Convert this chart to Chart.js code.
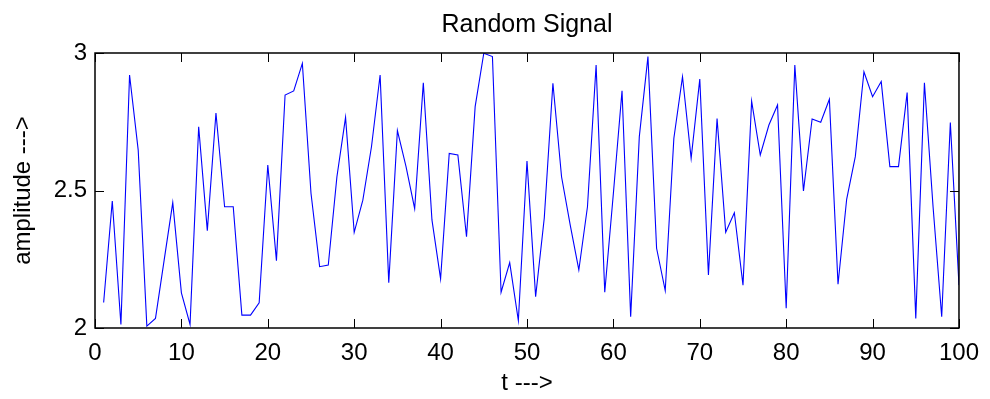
<!DOCTYPE html>
<html>
<head>
<meta charset="utf-8">
<script src="https://cdn.jsdelivr.net/npm/chart.js@4/dist/chart.umd.min.js"></script>
<style>
  html, body { margin: 0; padding: 0; background: #fff; }
  canvas { display: block; }
</style>
</head>
<body>
<canvas id="signalChart" width="990" height="399"></canvas>
<script>
const timeSteps = [
  1, 2, 3, 4, 5, 6, 7, 8, 9, 10, 11, 12, 13, 14, 15, 16, 17, 18, 19, 20,
  21, 22, 23, 24, 25, 26, 27, 28, 29, 30, 31, 32, 33, 34, 35, 36, 37, 38, 39, 40,
  41, 42, 43, 44, 45, 46, 47, 48, 49, 50, 51, 52, 53, 54, 55, 56, 57, 58, 59, 60,
  61, 62, 63, 64, 65, 66, 67, 68, 69, 70, 71, 72, 73, 74, 75, 76, 77, 78, 79, 80,
  81, 82, 83, 84, 85, 86, 87, 88, 89, 90, 91, 92, 93, 94, 95, 96, 97, 98, 99, 100
];
const amplitude = [
  2.093, 2.462, 2.013, 2.920, 2.647, 2.007, 2.035, 2.246, 2.456, 2.128,
  2.013, 2.732, 2.354, 2.782, 2.441, 2.441, 2.047, 2.047, 2.092, 2.593,
  2.245, 2.847, 2.862, 2.962, 2.490, 2.223, 2.229, 2.550, 2.766, 2.348,
  2.465, 2.659, 2.920, 2.165, 2.718, 2.587, 2.434, 2.892, 2.393, 2.179,
  2.635, 2.629, 2.332, 2.805, 2.999, 2.987, 2.130, 2.238, 2.027, 2.607,
  2.114, 2.400, 2.890, 2.550, 2.375, 2.211, 2.441, 2.956, 2.130, 2.490,
  2.863, 2.041, 2.696, 2.987, 2.290, 2.136, 2.690, 2.914, 2.617, 2.905,
  2.193, 2.762, 2.348, 2.419, 2.156, 2.825, 2.629, 2.738, 2.811, 2.072,
  2.956, 2.498, 2.760, 2.748, 2.832, 2.159, 2.468, 2.623, 2.932, 2.841,
  2.896, 2.587, 2.587, 2.856, 2.035, 2.892, 2.441, 2.041, 2.747, 2.156
];
const xTickValues = [0, 10, 20, 30, 40, 50, 60, 70, 80, 90, 100];
const yTickValues = [2, 2.5, 3];

Chart.defaults.font.family = "'Liberation Sans', Arial, sans-serif";
Chart.defaults.color = "#000";

// box round the plot with short inward ticks on all four sides
const axesBox = {
  id: "axesBox",
  afterDatasetsDraw(chart) {
    const { ctx, chartArea: a, scales } = chart;
    ctx.save();
    ctx.strokeStyle = "#000";
    ctx.lineWidth = 1;
    xTickValues.forEach((v) => {
      const x = Math.round(scales.x.getPixelForValue(v)) + 0.5;
      ctx.beginPath();
      ctx.moveTo(x, a.bottom);
      ctx.lineTo(x, a.bottom - 9);
      ctx.moveTo(x, a.top);
      ctx.lineTo(x, a.top + 9);
      ctx.stroke();
    });
    yTickValues.forEach((v) => {
      const y = Math.round(scales.y.getPixelForValue(v)) + 0.5;
      ctx.beginPath();
      ctx.moveTo(a.left, y);
      ctx.lineTo(a.left + 9, y);
      ctx.moveTo(a.right, y);
      ctx.lineTo(a.right - 9, y);
      ctx.stroke();
    });
    ctx.lineWidth = 1.5;
    ctx.strokeRect(a.left, a.top, a.right - a.left, a.bottom - a.top);
    ctx.restore();
  },
};

new Chart(document.getElementById("signalChart"), {
  type: "line",
  data: {
    datasets: [
      {
        data: timeSteps.map((t, i) => ({ x: t, y: amplitude[i] })),
        borderColor: "#0000ff",
        borderWidth: 1.1,
        pointRadius: 0,
        tension: 0,
        fill: false,
      },
    ],
  },
  options: {
    responsive: false,
    animation: false,
    devicePixelRatio: 1,
    layout: { padding: { right: 27, left: 0, top: 0, bottom: 0 } },
    plugins: {
      legend: { display: false },
      tooltip: { enabled: false },
      title: {
        display: true,
        fullSize: false,
        text: "Random Signal",
        color: "#000",
        font: { size: 25, weight: "normal" },
        padding: { top: 10, bottom: 13 },
      },
    },
    scales: {
      x: {
        type: "linear",
        min: 0,
        max: 100,
        afterBuildTicks: (scale) => {
          scale.ticks = xTickValues.map((v) => ({ value: v }));
        },
        afterFit: (scale) => {
          scale.height = 71;
        },
        grid: { display: false, drawTicks: false },
        border: { display: false },
        ticks: { padding: 11, font: { size: 24 }, maxRotation: 0 },
        title: {
          display: true,
          text: "t --->",
          font: { size: 24 },
          padding: { top: 0, bottom: 1 },
        },
      },
      y: {
        min: 2,
        max: 3,
        afterBuildTicks: (scale) => {
          scale.ticks = yTickValues.map((v) => ({ value: v }));
        },
        afterFit: (scale) => {
          scale.width = 95;
        },
        grid: { display: false, drawTicks: false },
        border: { display: false },
        ticks: {
          padding: 8,
          font: { size: 24 },
          callback: (v) => String(v),
        },
        title: {
          display: true,
          text: "amplitude --->",
          font: { size: 24 },
          padding: { top: 9, bottom: 0 },
        },
      },
    },
  },
  plugins: [axesBox],
});
</script>
</body>
</html>
